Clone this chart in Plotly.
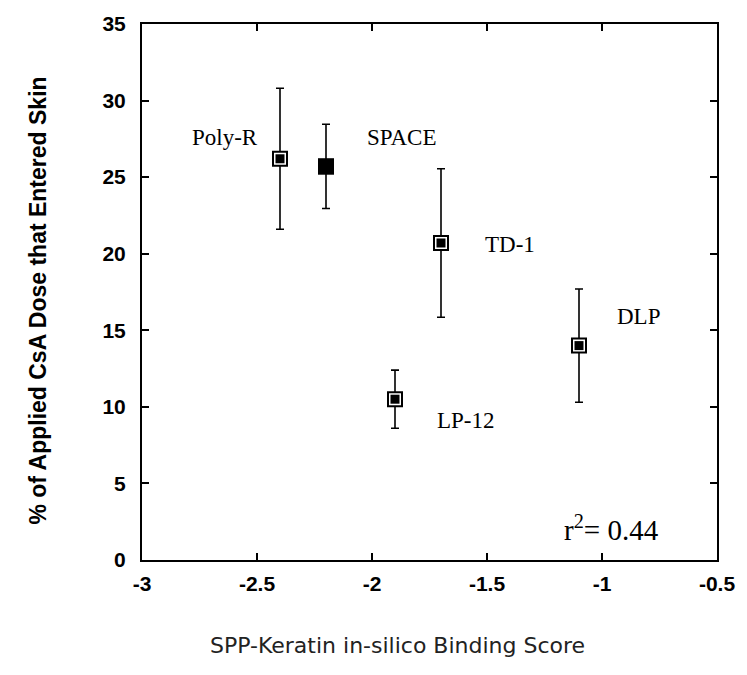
import plotly.graph_objects as go

# Peptide scores, skin penetration (% dose) and error (+/-)
peptides = ["Poly-R", "SPACE", "TD-1", "LP-12", "DLP"]
binding_score = [-2.4, -2.2, -1.7, -1.9, -1.1]
pct_dose = [26.2, 25.7, 20.7, 10.5, 14.0]
pct_err = [4.6, 2.75, 4.85, 1.9, 3.7]
filled = [False, True, False, False, False]

# Label anchor positions (data units)
label_x = [-2.64, -1.87, -1.40, -1.59, -0.84]
label_y = [27.6, 27.6, 20.6, 9.1, 15.9]

x_ticks = [-3, -2.5, -2, -1.5, -1, -0.5]
y_ticks = [0, 5, 10, 15, 20, 25, 30, 35]

fig = go.Figure()

# error bars with open square markers
fig.add_trace(go.Scatter(
    x=binding_score, y=pct_dose, mode="markers",
    error_y=dict(type="data", array=pct_err, visible=True,
                 color="black", thickness=1.6, width=4),
    marker=dict(symbol="square", size=14, color="white", opacity=1,
                line=dict(color="black", width=2)),
    showlegend=False, hoverinfo="skip",
))

# inner fill: full for filled points, partial for the rest
fig.add_trace(go.Scatter(
    x=binding_score, y=pct_dose, mode="markers",
    marker=dict(symbol="square",
                size=[16 if f else 9 for f in filled],
                color="#000000", opacity=1, line=dict(width=0)),
    showlegend=False, hoverinfo="skip",
))

for name, lx, ly in zip(peptides, label_x, label_y):
    fig.add_annotation(x=lx, y=ly, text=name, showarrow=False,
                       font=dict(family="Liberation Serif", size=23, color="black"))

fig.add_annotation(x=-0.96, y=2.1, text="r<sup>2</sup>= 0.44", showarrow=False,
                   font=dict(family="Liberation Serif", size=29, color="black"))

# axis titles
fig.add_annotation(xref="paper", yref="paper", x=-0.207, y=0.484,
                   text="% of Applied CsA Dose that Entered Skin", textangle=-90,
                   showarrow=False,
                   font=dict(family="Liberation Sans", size=23, color="black", weight="bold"))
fig.add_annotation(xref="paper", yref="paper", x=0.444, y=-0.186,
                   text="SPP-Keratin in-silico Binding Score", showarrow=False,
                   font=dict(family="DejaVu Sans", size=22, color="#222222"))

axis_common = dict(showline=True, linecolor="black", linewidth=2, mirror="allticks",
                   ticks="inside", ticklen=7, tickwidth=1.6, tickcolor="black",
                   showgrid=False, zeroline=False,
                   tickfont=dict(family="Liberation Sans", size=21, color="black", weight="bold"))

fig.update_xaxes(range=[-3, -0.5], tickvals=x_ticks, ticklabelstandoff=4,
                 ticktext=[f"{v:g}" for v in x_ticks], **axis_common)
fig.update_yaxes(range=[0, 35], tickvals=y_ticks, ticklabelstandoff=10,
                 ticktext=[str(v) for v in y_ticks], **axis_common)

fig.update_layout(width=747, height=675, plot_bgcolor="white", paper_bgcolor="white",
                  margin=dict(l=142, r=24, t=23, b=115))

fig.write_html("out.html")
